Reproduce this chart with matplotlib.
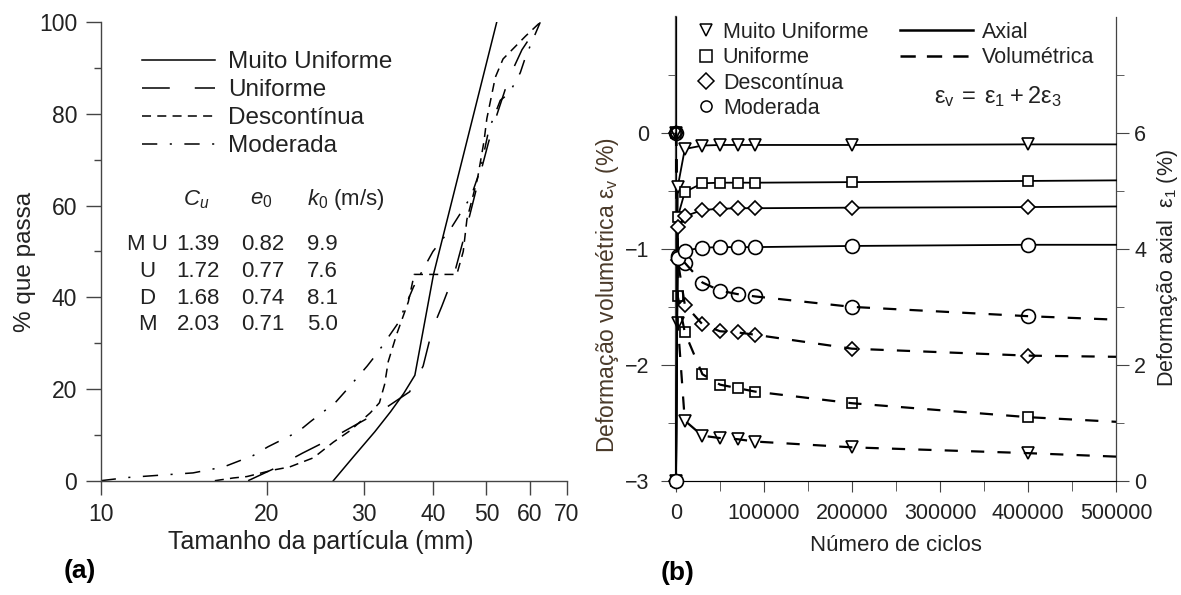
import matplotlib
matplotlib.use("Agg")
import matplotlib.pyplot as plt
from matplotlib.lines import Line2D
from matplotlib.ticker import FixedLocator, FixedFormatter, NullLocator, MultipleLocator, FuncFormatter

plt.rcParams['font.family'] = ['Liberation Sans', 'DejaVu Sans']
plt.rcParams['mathtext.fontset'] = 'custom'
plt.rcParams['mathtext.rm'] = 'Liberation Sans'
plt.rcParams['mathtext.it'] = 'Liberation Sans:italic'
plt.rcParams['lines.scale_dashes'] = False
plt.rcParams['axes.unicode_minus'] = True

# ---------------- (a) grain size distribution ----------------
mu_size = [26.4, 28.7, 31.4, 33.5, 35.4, 37.1, 38.3, 40.1, 52.2]
mu_pass = [0, 5.2, 10.7, 15, 19, 23, 32, 45, 100]

u_size = [18.5, 20.5, 23.2, 26.0, 29.0, 32.4, 36.3, 38.4, 39.9, 41.5, 43.7, 46.0, 48.5, 50.5, 52.3, 55.0, 58.0, 62.6]
u_pass = [0, 2.5, 6, 9, 12.2, 15.4, 19.4, 25, 33, 38, 45, 55, 66, 74, 80, 88, 94, 100]

d_size = [16.1, 17.4, 18.4, 20.5, 22.0, 24.3, 26.4, 28.3, 30.8, 32.0, 32.7, 33.2, 34.4, 36.1, 37.0, 44.2, 45.4, 46.1, 48.2, 49.5, 50.1, 51.9, 53.6, 58.9, 62.6]
d_pass = [0, 0.6, 0.9, 2.3, 3, 5, 8.4, 10.9, 14.8, 17, 21, 26, 32, 39, 45, 45, 50, 57, 66, 74, 79, 88, 92, 97, 100]

m_size = [10.0, 11.2, 12.8, 14.7, 16.7, 18.9, 20.1, 22.8, 24.0, 26.6, 27.9, 30.4, 31.7, 34.6, 36.9, 40.0, 43.1, 46.9, 48.8, 50.5, 53.0, 55.0, 57.6, 58.9, 62.6]
m_pass = [0, 0.7, 1.2, 1.7, 3, 5.5, 7.4, 10.7, 12.9, 17, 19.8, 25, 27.8, 34.4, 42.3, 50, 55, 62, 68, 76.5, 83, 84.5, 89, 92.5, 100]

size_ticks = [10, 20, 30, 40, 50, 60, 70]
grad_labels = ['Muito Uniforme', 'Uniforme', 'Descontínua', 'Moderada']

table_rows = ['M U', 'U', 'D', 'M']
cu_vals = ['1.39', '1.72', '1.68', '2.03']
e0_vals = ['0.82', '0.77', '0.74', '0.71']
k0_vals = ['9.9', '7.6', '8.1', '5.0']

# ---------------- (b) cyclic test ----------------
cycles = [0, 2000, 10000, 30000, 50000, 70000, 90000, 200000, 400000]
cycle_end = 500000

axial_mu = [0, 5.07, 5.72, 5.78, 5.79, 5.79, 5.79, 5.79, 5.80]
axial_u = [0, 4.55, 4.98, 5.13, 5.14, 5.14, 5.14, 5.15, 5.17]
axial_d = [0, 4.38, 4.56, 4.67, 4.69, 4.70, 4.70, 4.71, 4.72]
axial_m = [0, 3.85, 3.97, 4.02, 4.03, 4.03, 4.03, 4.05, 4.07]
axial_end = [5.80, 5.18, 4.73, 4.07]

vol_mu = [0, -1.64, -2.48, -2.61, -2.63, -2.64, -2.66, -2.71, -2.76]
vol_u = [0, -1.41, -1.72, -2.08, -2.17, -2.20, -2.23, -2.33, -2.45]
vol_d = [0, -1.10, -1.48, -1.65, -1.71, -1.72, -1.74, -1.86, -1.92]
vol_m = [0, -1.06, -1.12, -1.29, -1.36, -1.39, -1.41, -1.50, -1.58]
vol_end = [-2.79, -2.49, -1.93, -1.61]

W, H = 1181, 595
fig = plt.figure(figsize=(W / 100, H / 100), dpi=100)

def px_axes(x0, x1, ytop, ybot):
    return [x0 / W, 1 - ybot / H, (x1 - x0) / W, (ybot - ytop) / H]

def fy(py):
    return 1 - py / H

def fx(px):
    return px / W

TXT = '#222222'
SP = '#444444'

# ---------- panel (a) ----------
A_X0, A_X1, A_YT, A_YB = 100.7, 567, 22.3, 480.7
ax1 = fig.add_axes(px_axes(A_X0, A_X1, A_YT, A_YB))
ax1.set_xscale('log')
ax1.set_xlim(10, 70)
ax1.set_ylim(0, 100)
ls_u = (0, (20, 18))
ls_d = (0, (6.5, 4.5))
ls_m = (0, (11, 9, 1.5, 9))
ax1.plot(mu_size, mu_pass, color='black', lw=1.1, ls='-', label=grad_labels[0])
ax1.plot(u_size, u_pass, color='black', lw=1.1, ls=ls_u, label=grad_labels[1])
ax1.plot(d_size, d_pass, color='black', lw=1.1, ls=ls_d, label=grad_labels[2])
ax1.plot(m_size, m_pass, color='black', lw=1.1, ls=ls_m, label=grad_labels[3])

for s in ['top', 'right']:
    ax1.spines[s].set_visible(False)
for s in ['left', 'bottom']:
    ax1.spines[s].set_color(SP)
    ax1.spines[s].set_linewidth(1.0)
ax1.xaxis.set_major_locator(FixedLocator(size_ticks))
ax1.xaxis.set_major_formatter(FixedFormatter([str(v) for v in size_ticks]))
ax1.xaxis.set_minor_locator(NullLocator())
ax1.yaxis.set_major_locator(MultipleLocator(20))
ax1.yaxis.set_minor_locator(MultipleLocator(10))
ax1.tick_params(axis='both', which='major', labelsize=16.5, colors=SP, labelcolor=TXT, width=1.0)
ax1.tick_params(axis='y', which='major', length=11, pad=6)
ax1.tick_params(axis='y', which='minor', length=5, width=1.0, colors=SP)
ax1.tick_params(axis='x', which='major', length=10, pad=6)
ax1.set_xlabel('Tamanho da partícula (mm)', fontsize=18, color=TXT)
ax1.xaxis.set_label_coords((321 - A_X0) / (A_X1 - A_X0), -(530 - A_YB) / (A_YB - A_YT))
ax1.set_ylabel('% que passa', fontsize=17.5, color=TXT)
ax1.yaxis.set_label_coords((36 - A_X0) / (A_X1 - A_X0), (A_YB - 262) / (A_YB - A_YT))

leg1 = ax1.legend(loc='upper left',
                  bbox_to_anchor=((142 - A_X0) / (A_X1 - A_X0), (A_YB - 51) / (A_YB - A_YT)),
                  frameon=False, fontsize=17.5, handlelength=3.0, handletextpad=0.55,
                  labelspacing=0.25, borderpad=0, borderaxespad=0)
for t in leg1.get_texts():
    t.set_color(TXT)

# table of properties
fig.text(fx(196), fy(200), r'$C_u$', fontsize=16, ha='center', va='center', color=TXT)
fig.text(fx(261), fy(200), r'$e_0$', fontsize=16, ha='center', va='center', color=TXT)
fig.text(fx(307), fy(200), r'$k_0$ (m/s)', fontsize=16, ha='left', va='center', color=TXT)
row_y = [245, 272, 298, 325]
for lab, cu, e0, k0, yy in zip(table_rows, cu_vals, e0_vals, k0_vals, row_y):
    fig.text(fx(147), fy(yy), lab, fontsize=16, ha='center', va='center', color=TXT)
    fig.text(fx(198), fy(yy), cu, fontsize=16, ha='center', va='center', color=TXT)
    fig.text(fx(263), fy(yy), e0, fontsize=16, ha='center', va='center', color=TXT)
    fig.text(fx(322), fy(yy), k0, fontsize=16, ha='center', va='center', color=TXT)

fig.text(fx(80), fy(571), '(a)', fontsize=19, fontweight='bold', ha='center', va='center')

# ---------- panel (b) ----------
B_X0, B_X1, B_YT, B_YB = 676, 1116, 16.7, 481
ax2 = fig.add_axes(px_axes(B_X0, B_X1, B_YT, B_YB))
ax2.set_xlim(0, 500000)
ax2.set_ylim(-3, 1)
ax3 = ax2.twinx()
ax3.set_ylim(0, 8)

markers = ['v', 's', 'D', 'o']
msizes = [9, 7.5, 7, 10]
axial_all = [axial_mu, axial_u, axial_d, axial_m]
vol_all = [vol_mu, vol_u, vol_d, vol_m]
xs = cycles + [cycle_end]
mev = list(range(len(cycles)))
for mk, ms, av, ae, vv, ve in zip(markers, msizes, axial_all, axial_end, vol_all, vol_end):
    ax2.plot(xs, vv + [ve], color='black', lw=1.6, ls=(0, (9.5, 9.5)), marker=mk, ms=ms,
             mfc='none', mec='black', mew=1.2, markevery=mev, zorder=3, clip_on=False)
    ax3.plot(xs, av + [ae], color='black', lw=1.3, ls='-', marker=mk, ms=ms,
             mfc='white', mec='black', mew=1.2, markevery=mev, zorder=3, clip_on=False)

ax2.spines['top'].set_visible(False)
ax3.spines['top'].set_visible(False)
for s in ['left', 'bottom']:
    ax2.spines[s].set_color(SP)
ax2.spines['left'].set_linewidth(1.6)
ax3.spines['right'].set_color(SP)
ax2.xaxis.set_major_locator(MultipleLocator(100000))
ax2.xaxis.set_minor_locator(MultipleLocator(50000))
ax2.xaxis.set_major_formatter(FuncFormatter(lambda v, p: f'{int(round(v))}'))
ax2.yaxis.set_major_locator(FixedLocator([-3, -2, -1, 0]))
ax2.yaxis.set_minor_locator(FixedLocator([-2.5, -1.5, -0.5, 0.5]))
ax2.yaxis.set_major_formatter(FuncFormatter(lambda v, p: f'{int(round(v))}'.replace('-', '\u2212')))
ax3.yaxis.set_major_locator(FixedLocator([0, 2, 4, 6]))
ax3.yaxis.set_minor_locator(FixedLocator([1, 3, 5, 7]))
ax2.tick_params(axis='both', which='major', labelsize=15.5, colors=SP, labelcolor=TXT)
ax2.tick_params(axis='y', which='major', length=11, pad=8)
ax2.tick_params(axis='y', which='minor', length=6, colors=SP)
ax2.tick_params(axis='x', which='major', length=8, pad=8)
ax2.tick_params(axis='x', which='minor', length=7, colors=SP)
ax3.tick_params(axis='y', which='major', labelsize=15.5, colors=SP, labelcolor=TXT, length=9, pad=4)
ax3.tick_params(axis='y', which='minor', length=6, colors=SP)

ax2.set_xlabel('Número de ciclos', fontsize=16, color=TXT)
ax2.xaxis.set_label_coords(0.5, -(535 - B_YB) / (B_YB - B_YT))
ax2.set_ylabel(r'Deformação volumétrica $\mathrm{ε}_{\mathrm{v}}$ (%)', fontsize=16.5, color='#4a3a2a')
ax2.yaxis.set_label_coords((621 - B_X0) / (B_X1 - B_X0), (B_YB - 295) / (B_YB - B_YT))
ax3.set_ylabel(r'Deformação axial  $\mathrm{ε}_1$ (%)', fontsize=15.5, color=TXT)
ax3.yaxis.set_label_coords((1155 - B_X0) / (B_X1 - B_X0), (B_YB - 268) / (B_YB - B_YT))

h_mk = [Line2D([], [], ls='none', marker=mk, ms=8, mfc='white', mec='black', mew=1.1) for mk in markers]
leg2 = ax3.legend(h_mk, grad_labels, loc='upper left',
                  bbox_to_anchor=((697 - B_X0) / (B_X1 - B_X0), (B_YB - 22) / (B_YB - B_YT)),
                  frameon=False, fontsize=15.5, handlelength=0.8, handletextpad=0.4,
                  labelspacing=0.2, borderpad=0, borderaxespad=0)
h_ln = [Line2D([], [], color='black', lw=1.8, ls='-'),
        Line2D([], [], color='black', lw=1.8, ls=(0, (11, 8)))]
leg3 = ax3.legend(h_ln, ['Axial', 'Volumétrica'], loc='upper left',
                  bbox_to_anchor=((900 - B_X0) / (B_X1 - B_X0), (B_YB - 22) / (B_YB - B_YT)),
                  frameon=False, fontsize=15.5, handlelength=3.4, handletextpad=0.4,
                  labelspacing=0.2, borderpad=0, borderaxespad=0)
ax3.add_artist(leg2)
for lg in (leg2, leg3):
    for t in lg.get_texts():
        t.set_color(TXT)

fig.text(fx(998), fy(97), r'$\mathrm{ε}_{\mathrm{v}}\:=\:\mathrm{ε}_1\:+\:2\mathrm{ε}_3$',
         fontsize=17, ha='center', va='center', color=TXT)
fig.text(fx(678), fy(573), '(b)', fontsize=19, fontweight='bold', ha='center', va='center')

fig.savefig('out.png', dpi=100)
